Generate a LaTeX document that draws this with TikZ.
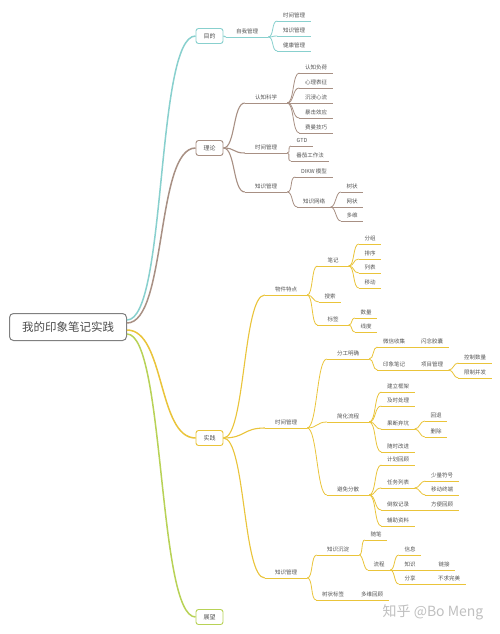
\documentclass[tikz,border=0pt]{standalone}
\usepackage{fontspec}
\newfontfamily\cjk{Noto Sans CJK SC}
\definecolor{cy}{RGB}{136,208,206}
\definecolor{br}{RGB}{168,144,132}
\definecolor{ye}{RGB}{234,196,58}
\definecolor{gn}{RGB}{184,210,86}
\definecolor{txt}{RGB}{85,85,85}
\definecolor{rootc}{RGB}{128,128,128}
\definecolor{wmc}{RGB}{192,192,192}
\tikzset{
  ul/.style={append after command={(\tikzlastnode.south west) edge[draw=#1,line width=.8pt] (\tikzlastnode.south east)}},
  base/.style={font=\cjk\fontsize{5.5}{6}\selectfont, text=txt, inner ysep=2.4pt, text height=4.4pt, text depth=0.6pt, anchor=south},
  lf/.style={base, inner xsep=5.5pt, ul=#1},
  md/.style={base, inner xsep=10pt, ul=#1},
  box/.style={draw=#1, fill=white, rounded corners=2.5pt, line width=0.9pt, minimum width=27pt, minimum height=15pt, inner sep=0pt, font=\cjk\fontsize{6}{7}\selectfont, text=txt},
  rootbox/.style={draw=rootc, fill=white, rounded corners=4pt, line width=1pt, minimum width=117pt, minimum height=27pt, inner sep=0pt, font=\cjk\fontsize{11.5}{13}\selectfont, text=txt!90!black},
  cv/.style={to path={.. controls +(#1,0) and +(-#1,0) .. (\tikztotarget)}},
  rl/.style={line width=1.5pt},
  l1/.style={line width=1.1pt},
  l2/.style={line width=0.8pt},
  wm/.style={font=\cjk\fontsize{14}{16}\selectfont, text=wmc, inner sep=0pt}
}
\begin{document}
\begin{tikzpicture}[x=1pt,y=-1pt]
\useasboundingbox[fill=white] (0,0) rectangle (500,634);

% root and main boxes
\node[rootbox] (root) at (68,327) {我的印象笔记实践};
\node[box=cy] (mudi) at (209.5,36) {目的};
\node[box=br] (lilun) at (209.5,148) {理论};
\node[box=ye] (shijian) at (209.5,438) {实践};
\node[box=gn] (zhanwang) at (209.5,617) {展望};

\draw[rl,cy] ([yshift=7pt]root.east) to[cv=40] (mudi.west);
\draw[rl,br] ([yshift=4pt]root.east) to[cv=40] (lilun.west);
\draw[rl,ye] ([yshift=-3pt]root.east) to[cv=38] (shijian.west);
\draw[rl,gn] ([yshift=-7pt]root.east) to[cv=38] (zhanwang.west);

% ---------- 目的 ----------
\node[md=cy] (c1) at (247,37) {自我管理};
\node[lf=cy] (c11) at (294,21) {时间管理};
\node[lf=cy] (c12) at (294,36) {知识管理};
\node[lf=cy] (c13) at (294,51) {健康管理};
\draw[l1,cy] (mudi.east) to[cv=2] (c1.south west);
\foreach \n in {c11,c12,c13} \draw[l2,cy] (c1.south east) to[cv=6] (\n.south west);

% ---------- 理论 ----------
\node[md=br] (b1) at (266,103) {认知科学};
\node[lf=br] (b11) at (316,73) {认知负荷};
\node[lf=br] (b12) at (316,88) {心理表征};
\node[lf=br] (b13) at (316,103) {沉浸心流};
\node[lf=br] (b14) at (316,118) {暴击效应};
\node[lf=br] (b15) at (316,133) {费曼技巧};
\node[md=br] (b2) at (266,153) {时间管理};
\node[lf=br] (b21) at (302,146) {GTD};
\node[lf=br] (b22) at (310,161) {番茄工作法};
\node[md=br] (b3) at (266,192) {知识管理};
\node[lf=br] (b31) at (314,177) {DIKW 模型};
\node[lf=br] (b32) at (314,207) {知识网络};
\node[lf=br] (b321) at (352,192) {树状};
\node[lf=br] (b322) at (352,207) {网状};
\node[lf=br] (b323) at (352,221) {多维};
\foreach \n in {b1,b2,b3} \draw[l1,br] (lilun.east) to[cv=12] (\n.south west);
\foreach \n in {b11,b12,b13,b14,b15} \draw[l2,br] (b1.south east) to[cv=7] (\n.south west);
\foreach \n in {b21,b22} \draw[l2,br] (b2.south east) to[cv=4] (\n.south west);
\foreach \n in {b31,b32} \draw[l2,br] (b3.south east) to[cv=6] (\n.south west);
\foreach \n in {b321,b322,b323} \draw[l2,br] (b32.south east) to[cv=5] (\n.south west);

% ---------- 实践 ----------
\node[md=ye] (y1) at (286,295) {物件特点};
\node[md=ye] (y11) at (333,266) {笔记};
\node[lf=ye] (y111) at (370,244) {分组};
\node[lf=ye] (y112) at (370,259) {排序};
\node[lf=ye] (y113) at (370,273) {列表};
\node[lf=ye] (y114) at (370,288) {移动};
\node[lf=ye] (y12) at (330,302) {搜索};
\node[md=ye] (y13) at (333,325) {标签};
\node[lf=ye] (y131) at (366,318) {数量};
\node[lf=ye] (y132) at (366,332) {线度};

\node[md=ye] (y2) at (286,428) {时间管理};
\node[md=ye] (y21) at (348,359) {分工明确};
\node[lf=ye] (y211) at (394,347) {微信收集};
\node[lf=ye] (y2111) at (432,347) {闪念胶囊};
\node[lf=ye] (y212) at (394,370) {印象笔记};
\node[lf=ye] (y2121) at (432,370) {项目管理};
\node[lf=ye] (y21211) at (475,363) {控制数量};
\node[lf=ye] (y21212) at (475,378) {限制并发};
\node[md=ye] (y22) at (348,422) {简化流程};
\node[lf=ye] (y221) at (398,392) {建立框架};
\node[lf=ye] (y222) at (398,406) {及时处理};
\node[lf=ye] (y223) at (398,429) {果断弃坑};
\node[lf=ye] (y2231) at (436,421) {回退};
\node[lf=ye] (y2232) at (436,437) {删除};
\node[lf=ye] (y224) at (398,452) {随时改进};
\node[md=ye] (y23) at (348,495) {避免分散};
\node[lf=ye] (y231) at (398,465) {计划回顾};
\node[lf=ye] (y232) at (398,488) {任务列表};
\node[lf=ye] (y2321) at (442,481) {少量符号};
\node[lf=ye] (y2322) at (442,495) {移动终端};
\node[lf=ye] (y233) at (398,510) {倒叙记录};
\node[lf=ye] (y2331) at (442,510) {方便回顾};
\node[lf=ye] (y234) at (398,526) {辅助资料};

\node[md=ye] (y3) at (286,578) {知识管理};
\node[md=ye] (y31) at (338,555) {知识沉淀};
\node[lf=ye] (y311) at (376,540) {随笔};
\node[lf=ye] (y312) at (379,570) {流程};
\node[lf=ye] (y3121) at (410,555) {信息};
\node[lf=ye] (y3122) at (410,570) {知识};
\node[lf=ye] (y31221) at (444,570) {链接};
\node[lf=ye] (y3123) at (410,584) {分享};
\node[lf=ye] (y31231) at (449,584) {不求完美};
\node[lf=ye] (y32) at (333,600) {树状标签};
\node[lf=ye] (y321) at (372,600) {多维回顾};

\foreach \n in {y1,y2,y3} \draw[l1,ye] (shijian.east) to[cv=22] (\n.south west);
\foreach \n in {y11,y12,y13} \draw[l2,ye] (y1.south east) to[cv=6] (\n.south west);
\foreach \n in {y111,y112,y113,y114} \draw[l2,ye] (y11.south east) to[cv=6] (\n.south west);
\foreach \n in {y131,y132} \draw[l2,ye] (y13.south east) to[cv=4] (\n.south west);
\foreach \n in {y21,y22,y23} \draw[l2,ye] (y2.south east) to[cv=10] (\n.south west);
\foreach \n in {y211,y212} \draw[l2,ye] (y21.south east) to[cv=5] (\n.south west);
\draw[l2,ye] (y211.south east) -- (y2111.south west);
\draw[l2,ye] (y212.south east) -- (y2121.south west);
\foreach \n in {y21211,y21212} \draw[l2,ye] (y2121.south east) to[cv=5] (\n.south west);
\foreach \n in {y221,y222,y223,y224} \draw[l2,ye] (y22.south east) to[cv=7] (\n.south west);
\foreach \n in {y2231,y2232} \draw[l2,ye] (y223.south east) to[cv=5] (\n.south west);
\foreach \n in {y231,y232,y233,y234} \draw[l2,ye] (y23.south east) to[cv=7] (\n.south west);
\foreach \n in {y2321,y2322} \draw[l2,ye] (y232.south east) to[cv=5] (\n.south west);
\draw[l2,ye] (y233.south east) -- (y2331.south west);
\foreach \n in {y31,y32} \draw[l2,ye] (y3.south east) to[cv=6] (\n.south west);
\foreach \n in {y311,y312} \draw[l2,ye] (y31.south east) to[cv=4] (\n.south west);
\foreach \n in {y3121,y3122,y3123} \draw[l2,ye] (y312.south east) to[cv=5] (\n.south west);
\draw[l2,ye] (y3122.south east) -- (y31221.south west);
\draw[l2,ye] (y3123.south east) -- (y31231.south west);
\draw[l2,ye] (y32.south east) -- (y321.south west);

% watermark
\node[wm] (wmark) at (433,612) {知乎 @Bo Meng};
\end{tikzpicture}
\end{document}
